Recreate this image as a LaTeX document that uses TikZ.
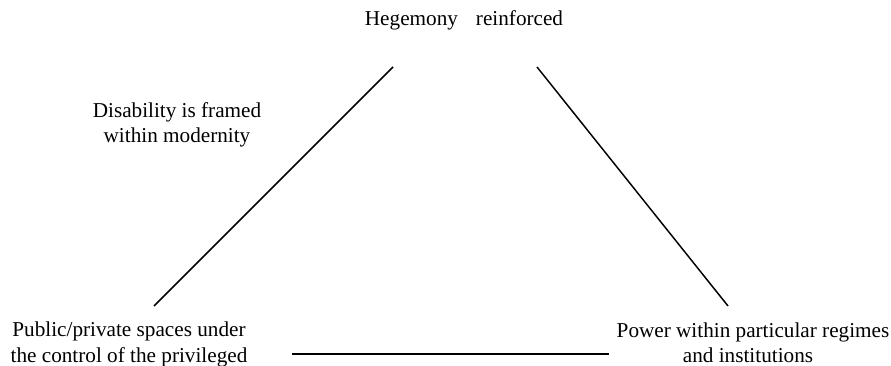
\documentclass[tikz,border=0pt]{standalone}
\usepackage{fontspec}
\setmainfont{Liberation Serif}
\begin{document}
\begin{tikzpicture}[x=0.75pt,y=-0.75pt,
  lbl/.style={inner sep=0pt,anchor=base,font=\fontsize{15.9}{19}\selectfont},
  edge/.style={line width=1.1pt}]
\useasboundingbox (0,0) rectangle (891,366);
\node[lbl] (top) at (464,26) {Hegemony\hspace{0.85em}reinforced};
\node[lbl] (dis1) at (177,118) {Disability is framed};
\node[lbl] (dis2) at (177,143) {within modernity};
\node[lbl] (pub1) at (129,336) {Public/private spaces under};
\node[lbl] (pub2) at (129,362) {the control of the privileged};
\node[lbl] (pow1) at (753,337) {Power within particular regimes};
\node[lbl] (pow2) at (748,362) {and institutions};
\coordinate (lt) at (393,67);
\coordinate (lb) at (154,306);
\coordinate (rt) at (537,67);
\coordinate (rb) at (728,306);
\coordinate (bl) at (292,354);
\coordinate (br) at (609,354);
\draw[edge] (lt) -- (lb);
\draw[edge] (rt) -- (rb);
\draw[edge] (bl) -- (br);
\end{tikzpicture}
\end{document}
